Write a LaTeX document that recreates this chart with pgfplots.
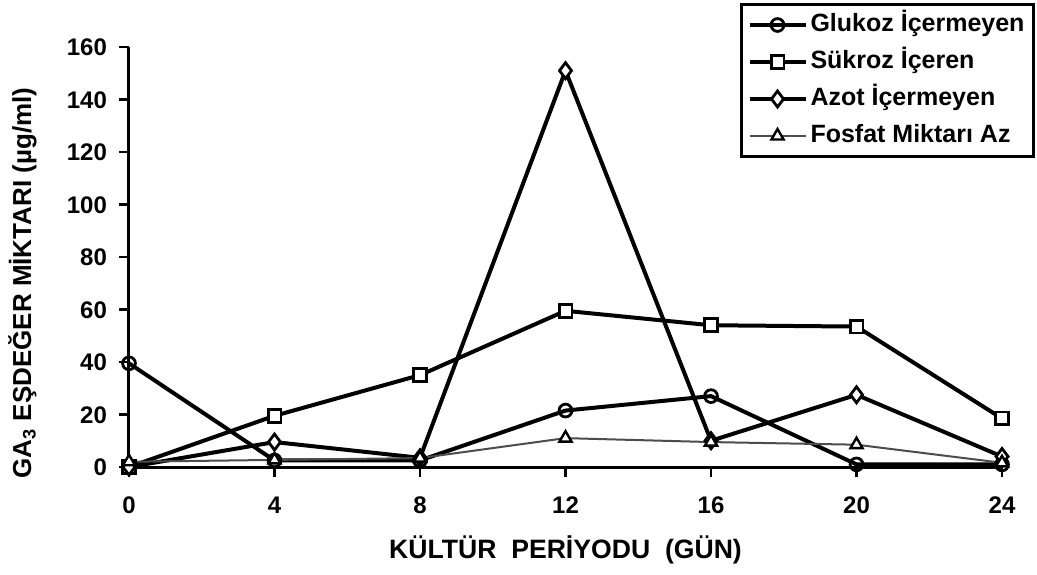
\documentclass[border=0pt]{standalone}
\usepackage{pgfplots}
\pgfplotsset{compat=1.18}
\usepackage{fontspec}
\setmainfont{Liberation Sans}
\begin{document}
\begin{tikzpicture}
\path[use as bounding box] (-64.5pt,-53.5pt) rectangle (454pt,233.5pt);
\begin{axis}[
  at={(0,0)}, anchor=south west,
  scale only axis, width=436.5pt, height=210pt,
  xmin=0, xmax=24, ymin=0, ymax=160,
  axis lines=left,
  axis line style={-, line width=1.5pt, black},
  xtick={0,4,...,24}, ytick={0,20,...,160},
  tick align=outside, major tick length=5pt,
  tick style={line width=1.3pt, black},
  clip=false,
  /pgf/number format/assume math mode=true,
  tick label style={font=\fontsize{12}{14}\selectfont\bfseries, text height=8.6pt, text depth=0pt},
  xticklabel style={yshift=-6pt},
  yticklabel style={xshift=-2.5pt},
  xlabel={KÜLTÜR\ \ PERİYODU\ \ (GÜN)},
  ylabel={GA\textsubscript{3} EŞDEĞER MİKTARI (µg/ml)},
  xlabel style={at={(axis description cs:0.5,-0.1976)}, anchor=center, font=\fontsize{13.3}{16}\selectfont\bfseries},
  ylabel style={at={(axis description cs:-0.122,0.438)}, anchor=center, font=\fontsize{13}{16}\selectfont\bfseries},
  legend style={at={(1.0378,1.1048)}, anchor=north east, draw=black, line width=1.5pt,
    font=\fontsize{12.5}{15}\selectfont\bfseries, inner sep=3pt, row sep=4pt,
    nodes={text height=9pt, text depth=2.5pt, inner sep=1.5pt}},
  legend cell align=left,
  legend image code/.code={\draw[mark repeat=2,mark phase=2] plot coordinates {(0pt,0pt) (14pt,0pt) (28pt,0pt)};},
  every axis plot/.append style={black},
]
\addplot[line width=2pt, mark=o, mark options={fill=white, line width=1.4pt}, mark size=3.2pt]
  coordinates {(0,39.5) (4,2.5) (8,2.5) (12,21.5) (16,27) (20,1) (24,1)};
\addlegendentry{Glukoz İçermeyen}
\addplot[line width=2pt, mark=square*, mark options={fill=white, line width=1.4pt}, mark size=3.2pt]
  coordinates {(0,0) (4,19.5) (8,35) (12,59.5) (16,54) (20,53.5) (24,18.5)};
\addlegendentry{Sükroz İçeren}
\addplot[line width=2pt, mark=diamond*, mark options={fill=white, line width=1.4pt}, mark size=4pt]
  coordinates {(0,0) (4,9.5) (8,3.5) (12,151) (16,10) (20,27.5) (24,4)};
\addlegendentry{Azot İçermeyen}
\addplot[line width=1pt, black!70, mark=triangle*, mark options={fill=white, draw=black, line width=1.2pt}, mark size=3.5pt]
  coordinates {(0,2) (4,2.7) (8,3.4) (12,11) (16,9.5) (20,8.5) (24,1.6)};
\addlegendentry{Fosfat Miktarı Az}
\end{axis}
\end{tikzpicture}
\end{document}
